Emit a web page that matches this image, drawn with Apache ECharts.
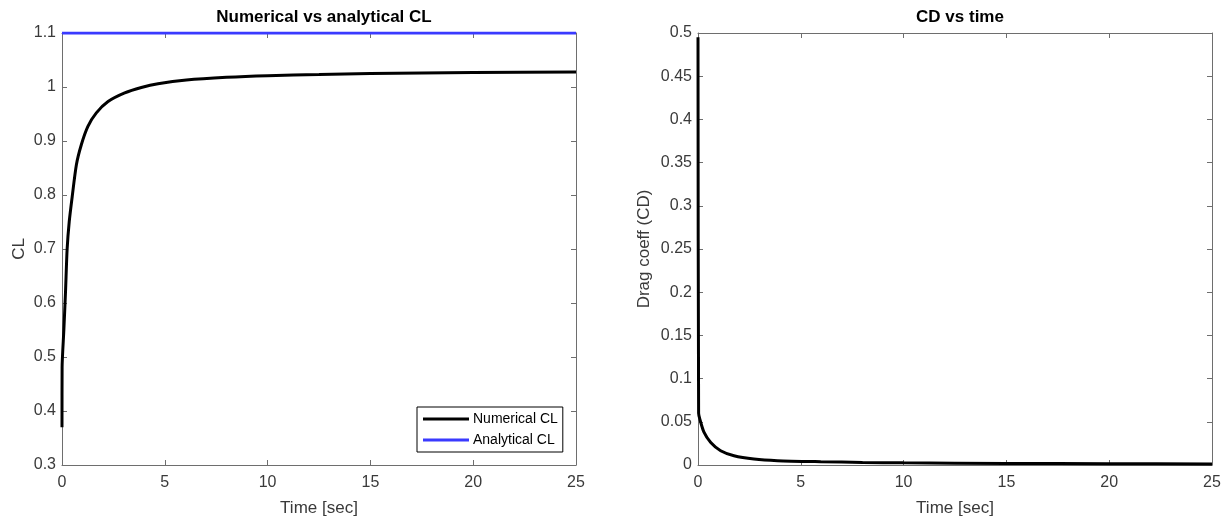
<!DOCTYPE html>
<html>
<head>
<meta charset="utf-8">
<script src="https://cdn.jsdelivr.net/npm/echarts@6/dist/echarts.min.js"></script>
<style>
  html, body { margin: 0; padding: 0; background: #fff; }
  #chart { width: 1231px; height: 522px; }
</style>
</head>
<body>
<div id="chart"></div>
<script>
// Lift coefficient history: time [s] and numerical CL
const clTime = [0, 0.005, 0.09, 0.17, 0.25, 0.35, 0.49, 0.70, 0.94, 1.26, 1.67, 2.24, 3.05, 3.86, 4.67, 6.05, 8, 10, 12.5, 15, 20, 25];
const clNumerical = [0.37, 0.48, 0.55, 0.62, 0.70, 0.75, 0.795, 0.856, 0.893, 0.927, 0.952, 0.973, 0.989, 0.999, 1.006, 1.013, 1.018, 1.021, 1.023, 1.025, 1.027, 1.028];
// Analytical (thin airfoil) CL, constant over the run
const clAnalyticalTime = [0, 25];
const clAnalytical = [1.1, 1.1];

// Drag coefficient history
const cdTime = [0, 0.03, 0.09, 0.29, 0.62, 1.1, 1.75, 2.72, 3.86, 5.97, 8, 10, 15, 20, 25];
const cdValues = [0.495, 0.06, 0.053, 0.038, 0.026, 0.0165, 0.0107, 0.0069, 0.005, 0.0038, 0.003, 0.0025, 0.0018, 0.0015, 0.0013];

// Tick settings
const timeTicks = { min: 0, max: 25, interval: 5 };
const clTicks = { min: 0.3, max: 1.1, interval: 0.1 };
const cdTicks = { min: 0, max: 0.5, interval: 0.05 };

const pairs = (xs, ys) => xs.map((x, i) => [x, ys[i]]);

const axisColor = '#6e6e6e';
const labelColor = '#3a3a3a';
const font = 'Liberation Sans, Arial, Helvetica, sans-serif';

function xAx(gridIndex, pos, withLabels) {
  return {
    type: 'value', gridIndex, position: pos,
    min: timeTicks.min, max: timeTicks.max, interval: timeTicks.interval,
    name: withLabels ? 'Time [sec]' : '',
    nameLocation: 'middle', nameGap: 35,
    nameTextStyle: { color: labelColor, fontSize: 17, fontFamily: font },
    axisLine: { show: true, onZero: false, lineStyle: { color: axisColor, width: 1 } },
    axisTick: { show: true, inside: true, length: 5, lineStyle: { color: axisColor } },
    axisLabel: { show: withLabels, color: labelColor, fontSize: 16, fontFamily: font, margin: 10 },
    splitLine: { show: false }
  };
}

function yAx(gridIndex, pos, ticks, name, gap, withLabels) {
  return {
    type: 'value', gridIndex, position: pos,
    min: ticks.min, max: ticks.max, interval: ticks.interval,
    name: withLabels ? name : '',
    nameLocation: 'middle', nameGap: gap, nameRotate: 90,
    nameTextStyle: { color: labelColor, fontSize: 17, fontFamily: font },
    axisLine: { show: true, onZero: false, lineStyle: { color: axisColor, width: 1 } },
    axisTick: { show: true, inside: true, length: 5, lineStyle: { color: axisColor } },
    axisLabel: { show: withLabels, color: labelColor, fontSize: 16, fontFamily: font, margin: 6 },
    splitLine: { show: false }
  };
}

const chart = echarts.init(document.getElementById('chart'), null, { renderer: 'canvas' });

chart.setOption({
  animation: false,
  backgroundColor: '#ffffff',
  title: [
    { text: 'Numerical vs analytical CL', left: 319, top: 4, textAlign: 'center',
      textStyle: { fontSize: 17, fontWeight: 'bold', color: '#000', fontFamily: font } },
    { text: 'CD vs time', left: 955, top: 4, textAlign: 'center',
      textStyle: { fontSize: 17, fontWeight: 'bold', color: '#000', fontFamily: font } }
  ],
  grid: [
    { left: 62, right: 655, top: 33, bottom: 56 },
    { left: 698, right: 19, top: 33, bottom: 56 }
  ],
  xAxis: [
    xAx(0, 'bottom', true), xAx(0, 'top', false),
    xAx(1, 'bottom', true), xAx(1, 'top', false)
  ],
  yAxis: [
    yAx(0, 'left', clTicks, 'CL', 34, true), yAx(0, 'right', clTicks, '', 0, false),
    yAx(1, 'left', cdTicks, 'Drag coeff (CD)', 45, true), yAx(1, 'right', cdTicks, '', 0, false)
  ],
  legend: {
    left: 417, top: 407, orient: 'vertical',
    data: ['Numerical CL', 'Analytical CL'],
    backgroundColor: '#fff', borderColor: '#000', borderWidth: 1,
    padding: [5, 5, 5, 6], itemGap: 7,
    icon: 'rect', itemWidth: 46, itemHeight: 3,
    textStyle: { fontSize: 14, color: '#000', fontFamily: font, padding: [0, 0, 0, -1] }
  },
  series: [
    {
      name: 'Analytical CL', type: 'line', xAxisIndex: 0, yAxisIndex: 0,
      data: pairs(clAnalyticalTime, clAnalytical), showSymbol: false, symbol: 'none',
      lineStyle: { color: '#3a3aff', width: 3 }, itemStyle: { color: '#3a3aff' }, z: 3
    },
    {
      name: 'Numerical CL', type: 'line', xAxisIndex: 0, yAxisIndex: 0,
      data: pairs(clTime, clNumerical), showSymbol: false, symbol: 'none',
      smooth: 0.25,
      lineStyle: { color: '#000', width: 3 }, itemStyle: { color: '#000' }, z: 4
    },
    {
      name: 'CD', type: 'line', xAxisIndex: 2, yAxisIndex: 2,
      data: pairs(cdTime, cdValues), showSymbol: false, symbol: 'none',
      smooth: 0.25,
      lineStyle: { color: '#000', width: 3 }, itemStyle: { color: '#000' }, z: 4
    }
  ]
});
</script>
</body>
</html>
